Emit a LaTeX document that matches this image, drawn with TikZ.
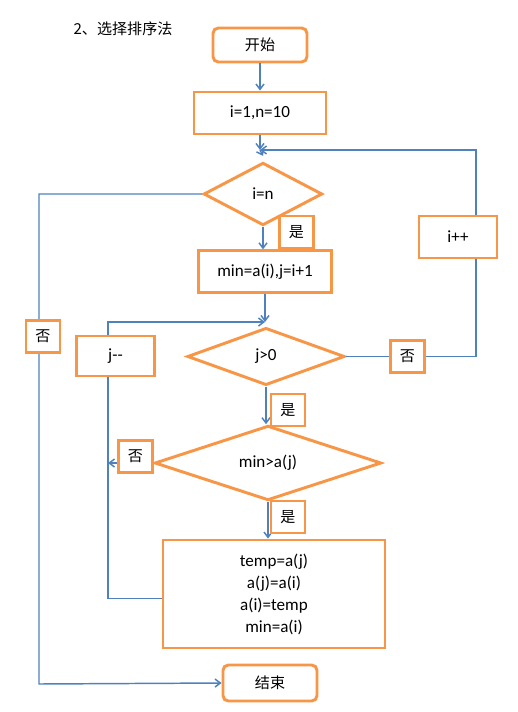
\documentclass[tikz,border=0pt]{standalone}
\usepackage{fontspec}
\setmainfont{Carlito}
\newfontfamily\cjk{Noto Sans CJK SC}
\usetikzlibrary{shapes.geometric,arrows.meta}
\definecolor{boxorange}{HTML}{F79646}
\definecolor{lineblue}{HTML}{4F81BD}

\begin{document}
\begin{tikzpicture}[x=0.75pt,y=-0.75pt,
        every node/.style={font=\fontsize{12.8}{16.5}\selectfont},
        proc/.style={draw=boxorange,line width=2.2pt,fill=white,inner sep=0pt,align=center},
        term/.style={proc,rounded corners=4pt},
        cond/.style={diamond,draw=boxorange,line width=2.2pt,fill=white,inner sep=0pt},
        zh/.style={font=\cjk\fontsize{11.3}{13}\selectfont},
        tag/.style={proc,zh,minimum width=25.5pt,minimum height=24pt},
        arr/.style={draw=lineblue,line width=1.1pt,-{Straight Barb[length=4pt,width=6pt]}}]
    \useasboundingbox (0,0) rectangle (517,712);

    % main column
    \node[zh] (title) at (123,29) {2、选择排序法};
    \node[term,zh,minimum width=70.5pt,minimum height=25.5pt] (start) at (260,45) {开始};
    \node[proc,minimum width=99pt,minimum height=31.5pt] (init) at (260,113) {i=1,n=10};
    \node[cond,minimum width=89pt,minimum height=47pt] (ineq) at (263,194) {i=n};
    \node[proc,minimum width=100pt,minimum height=31pt] (setmin) at (265,271.5) {min=a(i),j=i+1};
    \node[cond,minimum width=118pt,minimum height=43pt] (jgt) at (266,356.5) {j>0};
    \node[cond,minimum width=170pt,minimum height=56pt] (cmp) at (268,463) {min>a(j)};
    \node[proc,minimum width=166.5pt,minimum height=81pt] (swap) at (274,594) {temp=a(j)\\a(j)=a(i)\\a(i)=temp\\min=a(i)};
    \node[term,zh,minimum width=70.5pt,minimum height=27pt] (stop) at (270,683) {结束};

    \coordinate (loopin) at (260,150);
    \coordinate (rtop) at (476,150);
    \coordinate (jin) at (265,322);
    \coordinate (ltop) at (108,322);
    \coordinate (nocorner) at (39,684);

    % connectors
    \draw[arr] (start) -- (init);
    \draw[arr] (init) -- (loopin);
    \draw[arr] (loopin) -- ([yshift=4pt]ineq.north);
    \draw[arr] (ineq.south) -- (ineq.south |- setmin.north);
    \draw[arr] (ineq.west) -| (nocorner) -- (stop.west);
    \draw[arr] (setmin) -- (jin);
    \draw[arr] (jgt.east) -| (rtop) -- (loopin);
    \draw[arr] (jgt.south) -- (jgt.south |- cmp.north);
    \draw[arr] (cmp.west) -- (cmp.west -| ltop);
    \draw[arr] (cmp.south) -- (cmp.south |- swap.north);
    \draw[arr] ([yshift=-3.5pt]swap.west) -| (ltop) -- (jin);

    % boxes sitting on the lines
    \node[proc,minimum width=58.5pt,minimum height=31.5pt] (inc) at (458,237) {i++};
    \node[proc,minimum width=58pt,minimum height=30pt] (dec) at (115.5,356) {j-{}-};
    \node[tag] (yes1) at (296.5,232) {是};
    \node[tag] (no1) at (43,336.5) {否};
    \node[tag] (no2) at (407.5,356.5) {否};
    \node[tag] (yes2) at (288,410) {是};
    \node[tag] (no3) at (135.5,456.5) {否};
    \node[tag] (yes3) at (288,517) {是};
\end{tikzpicture}
\end{document}
